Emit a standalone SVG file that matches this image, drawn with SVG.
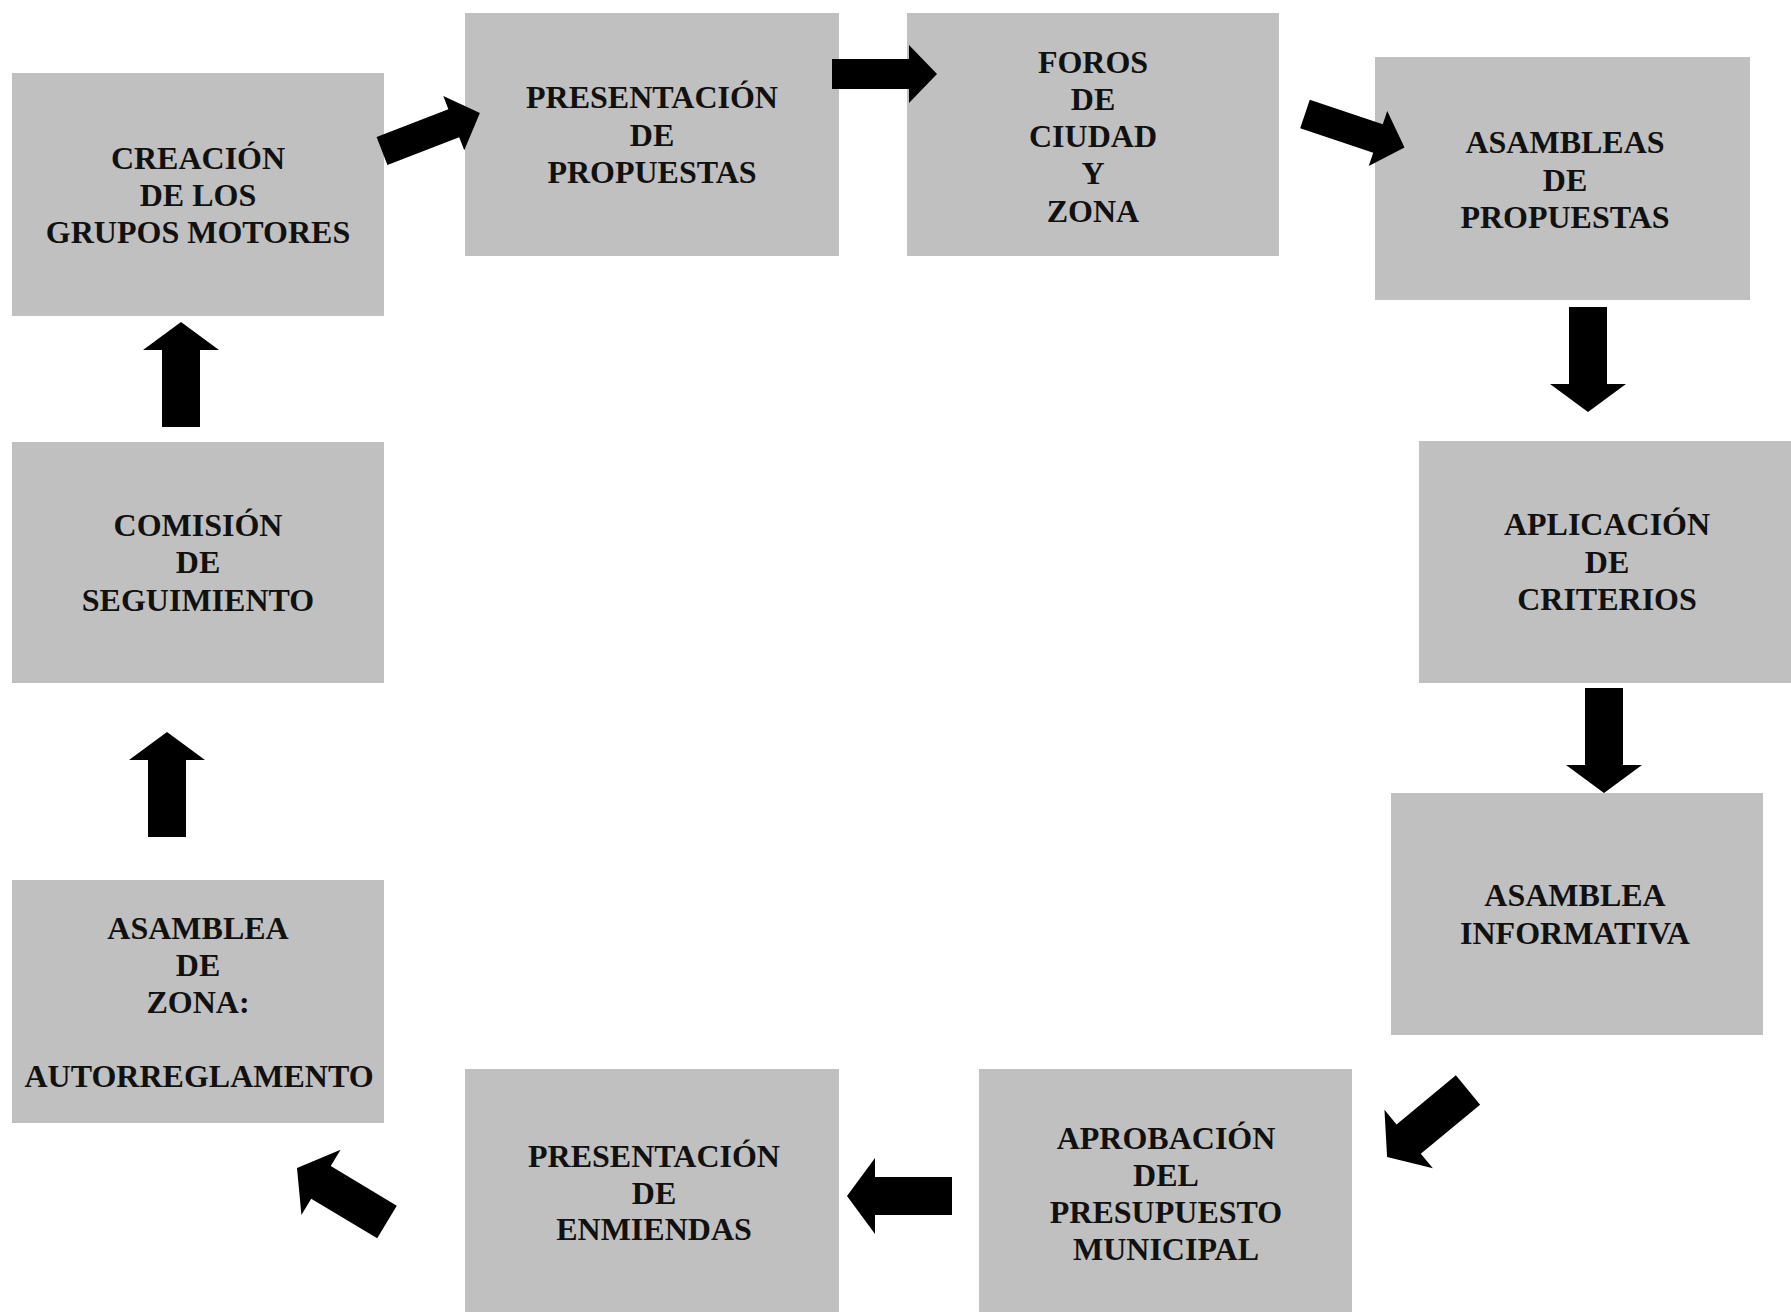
<svg xmlns="http://www.w3.org/2000/svg" xmlns:xlink="http://www.w3.org/1999/xlink" width="1791" height="1312" viewBox="0 0 1791 1312">
<style>
.box{fill:#c0c0c0}
.t{font-family:"Liberation Serif","Times New Roman",serif;font-weight:bold;font-size:32px;fill:#111;text-anchor:middle}
.arr{fill:#000}
</style>
<defs>
<path id="arS" d="M0,-15 H77 V-29 L105,0 L77,29 V15 H0 Z"/>
<path id="arL" d="M0,-19 H77 V-38 L105,0 L77,38 V19 H0 Z"/>
</defs>
<rect width="1791" height="1312" fill="#fff"/>
<g id="n1"><rect class="box" x="12" y="73" width="372" height="243"/>
<text class="t" x="198" y="169">CREACIÓN</text><text class="t" x="198" y="206">DE LOS</text><text class="t" x="198" y="243">GRUPOS MOTORES</text></g>
<g id="n2"><rect class="box" x="465" y="13" width="374" height="243"/>
<text class="t" x="652" y="108">PRESENTACIÓN</text><text class="t" x="652" y="146">DE</text><text class="t" x="652" y="183">PROPUESTAS</text></g>
<g id="n3"><rect class="box" x="907" y="13" width="372" height="243"/>
<text class="t" x="1093" y="73">FOROS</text><text class="t" x="1093" y="110">DE</text><text class="t" x="1093" y="147">CIUDAD</text><text class="t" x="1093" y="184">Y</text><text class="t" x="1093" y="222">ZONA</text></g>
<g id="n4"><rect class="box" x="1375" y="57" width="375" height="243"/>
<text class="t" x="1565" y="153">ASAMBLEAS</text><text class="t" x="1565" y="191">DE</text><text class="t" x="1565" y="228">PROPUESTAS</text></g>
<g id="n5"><rect class="box" x="1419" y="441" width="372" height="242"/>
<text class="t" x="1607" y="535">APLICACIÓN</text><text class="t" x="1607" y="573">DE</text><text class="t" x="1607" y="610">CRITERIOS</text></g>
<g id="n6"><rect class="box" x="1391" y="793" width="372" height="242"/>
<text class="t" x="1575" y="906">ASAMBLEA</text><text class="t" x="1575" y="944">INFORMATIVA</text></g>
<g id="n7"><rect class="box" x="979" y="1069" width="373" height="243"/>
<text class="t" x="1166" y="1149">APROBACIÓN</text><text class="t" x="1166" y="1186">DEL</text><text class="t" x="1166" y="1223">PRESUPUESTO</text><text class="t" x="1166" y="1260">MUNICIPAL</text></g>
<g id="n8"><rect class="box" x="465" y="1069" width="374" height="243"/>
<text class="t" x="654" y="1167">PRESENTACIÓN</text><text class="t" x="654" y="1204">DE</text><text class="t" x="654" y="1240">ENMIENDAS</text></g>
<g id="n9"><rect class="box" x="12" y="880" width="372" height="243"/>
<text class="t" x="198" y="939">ASAMBLEA</text><text class="t" x="198" y="976">DE</text><text class="t" x="198" y="1013">ZONA:</text><text class="t" x="199" y="1087">AUTORREGLAMENTO</text></g>
<g id="n10"><rect class="box" x="12" y="442" width="372" height="241"/>
<text class="t" x="198" y="536">COMISIÓN</text><text class="t" x="198" y="573">DE</text><text class="t" x="198" y="611">SEGUIMIENTO</text></g>
<g id="connectors" class="arr">
<use xlink:href="#arS" transform="translate(382,151) rotate(-21.2)"/>
<use xlink:href="#arS" transform="translate(832,74)"/>
<use xlink:href="#arS" transform="translate(1305,114) rotate(18.6)"/>
<use xlink:href="#arL" transform="translate(1588,307) rotate(90)"/>
<use xlink:href="#arL" transform="translate(1604,688) rotate(90)"/>
<use xlink:href="#arL" transform="translate(1468,1090) rotate(140.4)"/>
<use xlink:href="#arL" transform="translate(952,1196) rotate(180)"/>
<use xlink:href="#arL" transform="translate(387,1222) rotate(211)"/>
<use xlink:href="#arL" transform="translate(167,837) rotate(-90)"/>
<use xlink:href="#arL" transform="translate(181,427) rotate(-90)"/>
</g>
</svg>
